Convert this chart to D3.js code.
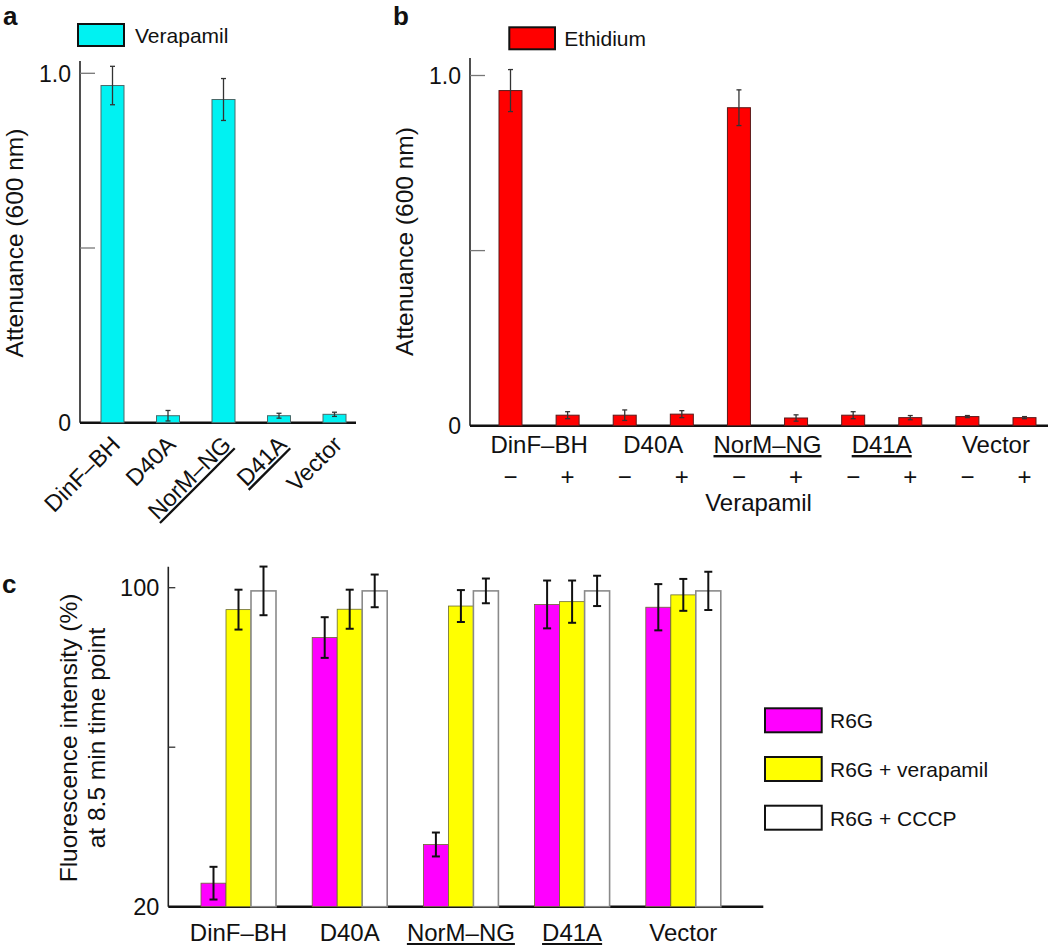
<!DOCTYPE html>
<html>
<head>
<meta charset="utf-8">
<script src="https://cdn.jsdelivr.net/npm/d3@7"></script>
<style>
  html, body { margin: 0; padding: 0; background: #fff; }
  svg { display: block; }
  text { font-family: "Liberation Sans", Arial, Helvetica, sans-serif; fill: #111; }
</style>
</head>
<body>
<svg id="chart" width="1050" height="945"></svg>
<script>
// ---------------- DATA ----------------
const strains = ["DinF–BH", "D40A", "NorM–NG", "D41A", "Vector"];
const underlinedStrains = ["NorM–NG", "D41A"];

// Panel a: verapamil
const verapamilValues = [0.965, 0.02, 0.925, 0.02, 0.024];
const verapamilErrors = [0.055, 0.015, 0.06, 0.007, 0.006];

// Panel b: ethidium, -/+ verapamil for each strain
const verapamilSigns = ["−", "+", "−", "+", "−", "+", "−", "+", "−", "+"];
const ethidiumValues = [0.957, 0.03, 0.03, 0.033, 0.908, 0.022, 0.03, 0.023, 0.026, 0.023];
const ethidiumErrors = [0.06, 0.01, 0.015, 0.01, 0.051, 0.009, 0.01, 0.006, 0.003, 0.003];

// Attenuance axis ticks
const attTicks = [0, 0.5, 1.0];
const attTickLabels = ["0", "", "1.0"];

// Panel c: fluorescence
const seriesC = ["R6G", "R6G + verapamil", "R6G + CCCP"];
const seriesColors = ["#ff00ff", "#ffff00", "#ffffff"];
const r6gValues = [25.9, 87.5, 35.6, 95.8, 95.1];
const r6gErrors = [4.1, 5.1, 3.0, 6.0, 5.8];
const r6gVerValues = [94.5, 94.6, 95.4, 96.5, 98.2];
const r6gVerErrors = [5.0, 4.9, 4.0, 5.3, 4.0];
const r6gCccpValues = [99.2, 99.2, 99.2, 99.2, 99.2];
const r6gCccpErrors = [6.1, 4.1, 3.1, 3.8, 4.8];
const fluoTicks = [20, 60, 100];
const fluoTickLabels = ["20", "", "100"];

// ---------------- DRAW ----------------
const svg = d3.select("#chart");
svg.append("rect").attr("width", 1050).attr("height", 945).attr("fill", "#fff");

function panelLabel(t, x, y) {
  svg.append("text").attr("x", x).attr("y", y).text(t)
    .attr("font-size", 26).attr("font-weight", "bold");
}

function yAxisTitle(lines, bx, cy, size, gap) {
  const g = svg.append("g").attr("transform", `translate(${bx},${cy}) rotate(-90)`);
  lines.forEach((l, i) => {
    g.append("text").attr("x", 0).attr("y", i * gap).attr("text-anchor", "middle")
      .attr("font-size", size).text(l);
  });
}

function drawAxes(g, y, x0, x1, yTop, ticks, labels, tickLen, tickColor, labelSize) {
  g.append("line").attr("x1", x0).attr("x2", x0).attr("y1", yTop).attr("y2", y(ticks[0]))
    .attr("stroke", "#222").attr("stroke-width", 1.6);
  ticks.forEach((t, i) => {
    if (i > 0) {
      g.append("line").attr("x1", x0).attr("x2", x0 + tickLen).attr("y1", y(t)).attr("y2", y(t))
        .attr("stroke", tickColor).attr("stroke-width", 1.3);
    }
    if (labels[i]) {
      g.append("text").attr("x", x0 - 9).attr("y", y(t) + labelSize * 0.36)
        .attr("text-anchor", "end").attr("font-size", labelSize).text(labels[i]);
    }
  });
  g.append("line").attr("x1", x0).attr("x2", x1).attr("y1", y(ticks[0])).attr("y2", y(ticks[0]))
    .attr("stroke", "#111").attr("stroke-width", 2.4);
}

function errorBars(g, data, cx, y, cap, color, width) {
  const eb = g.append("g").attr("stroke", color).attr("stroke-width", width);
  data.forEach(d => {
    const x = cx(d);
    eb.append("line").attr("x1", x).attr("x2", x).attr("y1", y(d.v + d.e)).attr("y2", y(d.v - d.e));
    eb.append("line").attr("x1", x - cap).attr("x2", x + cap).attr("y1", y(d.v + d.e)).attr("y2", y(d.v + d.e));
    eb.append("line").attr("x1", x - cap).attr("x2", x + cap).attr("y1", y(d.v - d.e)).attr("y2", y(d.v - d.e));
  });
}

// ---------- Panel a ----------
{
  const g = svg.append("g");
  const y = d3.scaleLinear().domain([0, 1]).range([422.7, 73.3]);
  const x = d3.scalePoint().domain(strains).range([112.5, 334.5]);
  const bw = 23;
  drawAxes(g, y, 80, 356, 61, attTicks, attTickLabels, 15, "#777", 23);
  const data = strains.map((s, i) => ({ s, v: verapamilValues[i], e: verapamilErrors[i] }));
  g.selectAll("rect.bar").data(data).join("rect").attr("class", "bar")
    .attr("x", d => x(d.s) - bw / 2).attr("width", bw)
    .attr("y", d => y(d.v)).attr("height", d => y(0) - y(d.v))
    .attr("fill", "#00f2f2").attr("stroke", "#4a6a6a").attr("stroke-width", 1);
  errorBars(g, data, d => x(d.s), y, 2.5, "#333", 1.3);
  strains.forEach(s => {
    g.append("text")
      .attr("transform", `translate(${x(s) + 9},${446}) rotate(-45)`)
      .attr("text-anchor", "end").attr("font-size", 23.5)
      .style("text-decoration", underlinedStrains.includes(s) ? "underline" : "none")
      .text(s);
  });
  g.append("rect").attr("x", 78).attr("y", 24).attr("width", 46).attr("height", 22)
    .attr("fill", "#00f2f2").attr("stroke", "#111").attr("stroke-width", 2);
  g.append("text").attr("x", 135).attr("y", 43).attr("font-size", 21).text("Verapamil");
  panelLabel("a", 3, 25);
  yAxisTitle(["Attenuance (600 nm)"], 22.5, 243, 24.5, 0);
}

// ---------- Panel b ----------
{
  const g = svg.append("g");
  const y = d3.scaleLinear().domain([0, 1]).range([425.7, 75.5]);
  const idx = d3.range(verapamilSigns.length);
  const x = d3.scalePoint().domain(idx).range([510.5, 1024.5]);
  const bw = 23;
  drawAxes(g, y, 470, 1048, 58, attTicks, attTickLabels, 15, "#777", 23);
  const data = idx.map(i => ({ i, v: ethidiumValues[i], e: ethidiumErrors[i] }));
  g.selectAll("rect.bar").data(data).join("rect").attr("class", "bar")
    .attr("x", d => x(d.i) - bw / 2).attr("width", bw)
    .attr("y", d => y(d.v)).attr("height", d => y(0) - y(d.v))
    .attr("fill", "#ff0000").attr("stroke", "#5a1a1a").attr("stroke-width", 1);
  errorBars(g, data, d => x(d.i), y, 2.5, "#333", 1.3);
  strains.forEach((s, k) => {
    const cx = (x(2 * k) + x(2 * k + 1)) / 2;
    g.append("text").attr("x", cx).attr("y", 453).attr("text-anchor", "middle")
      .attr("font-size", 24)
      .style("text-decoration", underlinedStrains.includes(s) ? "underline" : "none")
      .text(s);
  });
  idx.forEach(i => {
    g.append("text").attr("x", x(i)).attr("y", 485).attr("text-anchor", "middle")
      .attr("font-size", 24).text(verapamilSigns[i]);
  });
  g.append("text").attr("x", 758.5).attr("y", 511).attr("text-anchor", "middle")
    .attr("font-size", 24).text("Verapamil");
  g.append("rect").attr("x", 509.3).attr("y", 27.3).attr("width", 45.7).attr("height", 22)
    .attr("fill", "#ff0000").attr("stroke", "#111").attr("stroke-width", 2);
  g.append("text").attr("x", 564.3).attr("y", 45.5).attr("font-size", 21).text("Ethidium");
  panelLabel("b", 393, 25);
  yAxisTitle(["Attenuance (600 nm)"], 413, 241.5, 24.5, 0);
}

// ---------- Panel c ----------
{
  const g = svg.append("g");
  const y = d3.scaleLinear().domain([20, 100]).range([906.7, 587.7]);
  const xg = d3.scalePoint().domain(strains).range([238.5, 683.3]);
  const xs = d3.scaleBand().domain(seriesC).range([-37.5, 37.5]);
  drawAxes(g, y, 168.3, 763.3, 566.7, fluoTicks, fluoTickLabels, 7, "#333", 23.5);
  const valuesBySeries = [r6gValues, r6gVerValues, r6gCccpValues];
  const errorsBySeries = [r6gErrors, r6gVerErrors, r6gCccpErrors];
  const data = [];
  seriesC.forEach((sr, j) => strains.forEach((s, i) => {
    data.push({ s, sr, j, v: valuesBySeries[j][i], e: errorsBySeries[j][i] });
  }));
  g.selectAll("rect.bar").data(data).join("rect").attr("class", "bar")
    .attr("x", d => xg(d.s) + xs(d.sr)).attr("width", xs.bandwidth())
    .attr("y", d => y(d.v)).attr("height", d => y(20) - y(d.v))
    .attr("fill", d => seriesColors[d.j])
    .attr("stroke", d => d.j === 2 ? "#8a8a8a" : "#6a6a30")
    .attr("stroke-width", d => d.j === 2 ? 1.6 : 0.8);
  errorBars(g, data, d => xg(d.s) + xs(d.sr) + xs.bandwidth() / 2, y, 4, "#111", 2);
  strains.forEach(s => {
    g.append("text").attr("x", xg(s)).attr("y", 941).attr("text-anchor", "middle")
      .attr("font-size", 24)
      .style("text-decoration", underlinedStrains.includes(s) ? "underline" : "none")
      .text(s);
  });
  seriesC.forEach((sr, j) => {
    const ty = 708.3 + j * 48.7;
    g.append("rect").attr("x", 765).attr("y", ty).attr("width", 56.7).attr("height", 24)
      .attr("fill", seriesColors[j]).attr("stroke", "#111").attr("stroke-width", 2);
    g.append("text").attr("x", 830).attr("y", ty + 20).attr("font-size", 21).text(sr);
  });
  panelLabel("c", 2, 593);
  yAxisTitle(["Fluorescence intensity (%)", "at 8.5 min time point"], 76.5, 738, 24.5, 28.5);
}
</script>
</body>
</html>
